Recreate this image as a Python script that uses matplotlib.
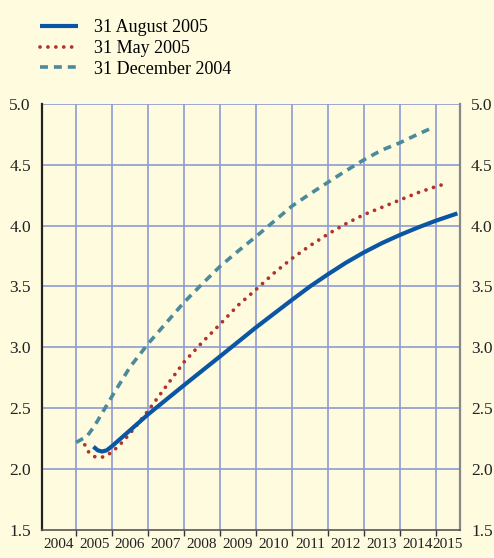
import numpy as np
import matplotlib
matplotlib.use("Agg")
import matplotlib.pyplot as plt
from matplotlib.ticker import FixedLocator, NullFormatter, FixedFormatter

# --- Du lieu doc tu bieu do ---
aug_x = [2005.48, 2005.6, 2005.72, 2005.85, 2006.0, 2006.25, 2006.5, 2007.0,
         2008.0, 2009.0, 2010.0, 2011.0, 2011.5, 2012.0, 2012.5, 2013.0,
         2013.5, 2014.0, 2014.5, 2015.0, 2015.6]
aug_y = [2.185, 2.155, 2.145, 2.155, 2.19, 2.255, 2.32, 2.45,
         2.69, 2.926, 3.164, 3.39, 3.50, 3.60, 3.695, 3.78,
         3.856, 3.923, 3.984, 4.04, 4.10]

may_x = [2005.24, 2005.35, 2005.53, 2005.76, 2006.0, 2006.31, 2006.6, 2007.0,
         2007.5, 2008.0, 2008.5, 2009.0, 2009.5, 2010.0, 2010.5, 2011.0,
         2011.5, 2012.0, 2012.5, 2013.0, 2013.5, 2014.0, 2014.5, 2015.0,
         2015.23]
may_y = [2.20, 2.14, 2.10, 2.10, 2.14, 2.23, 2.33, 2.48,
         2.68, 2.88, 3.04, 3.19, 3.345, 3.475, 3.61, 3.73,
         3.835, 3.93, 4.015, 4.09, 4.15, 4.21, 4.27, 4.32,
         4.34]

dec_x = [2005.0, 2005.3, 2005.5, 2006.0, 2006.5, 2007.0, 2007.5, 2008.0,
         2008.5, 2009.0, 2009.5, 2010.0, 2010.5, 2011.0, 2011.5, 2012.0,
         2012.5, 2013.0, 2013.5, 2014.0, 2014.5, 2014.88]
dec_y = [2.22, 2.27, 2.35, 2.60, 2.84, 3.03, 3.20, 3.37,
         3.52, 3.665, 3.79, 3.91, 4.035, 4.16, 4.26, 4.355,
         4.45, 4.54, 4.62, 4.68, 4.75, 4.80]

years = list(range(2004, 2016))
year_label_pos = [y + 0.5 for y in years[:-1]] + [2015.33]
y_ticks = [1.5, 2.0, 2.5, 3.0, 3.5, 4.0, 4.5, 5.0]

bg = "#FEFBDF"
grid_col = "#8E9BD3"

plt.rcParams['font.family'] = ['Liberation Serif', 'DejaVu Serif']

fig = plt.figure(figsize=(4.94, 5.58), dpi=100, facecolor=bg)
ax = fig.add_axes([0.085, 0.050, 0.846, 0.764], facecolor=bg)

# luoi
for yy in y_ticks[1:]:
    ax.axhline(yy, color=grid_col, lw=1.2, zorder=1)
for xx in years[1:]:
    ax.axvline(xx, color=grid_col, lw=1.2, zorder=1)

l1, = ax.plot(aug_x, aug_y, color="#0A56A5", lw=3.0, solid_capstyle='butt',
              solid_joinstyle='round', label="31 August 2005", zorder=4)
l2, = ax.plot(may_x, may_y, color="#B0332E", lw=2.7, linestyle=(0, (0.01, 2.1)),
              dash_capstyle='round', label="31 May 2005", zorder=3)
l3, = ax.plot(dec_x, dec_y, color="#4A8B9B", lw=2.6, linestyle=(0, (2.2, 1.65)),
              dash_capstyle='butt', label="31 December 2004", zorder=3)

ax.set_xlim(2004.05, 2015.67)
ax.set_ylim(1.5, 5.0)

ax.xaxis.set_major_locator(FixedLocator(years))
ax.xaxis.set_major_formatter(NullFormatter())
ax.xaxis.set_minor_locator(FixedLocator(year_label_pos))
ax.xaxis.set_minor_formatter(FixedFormatter([str(y) for y in years]))
ax.tick_params(axis='x', which='major', direction='out', length=4, width=1.0, color="#333333")
ax.tick_params(axis='x', which='minor', length=0, pad=6, labelsize=11, colors="#222222")

ax.set_yticks(y_ticks)
ax.set_yticklabels([f"{v:.1f}" for v in y_ticks])
ax.tick_params(axis='y', which='major', length=0, labelsize=12.5, colors="#222222",
               left=True, right=True, labelleft=True, labelright=True, pad=8)

ax.spines["top"].set_visible(False)
ax.spines["left"].set_color("#222222")
ax.spines["left"].set_linewidth(1.6)
ax.spines["right"].set_color("#888888")
ax.spines["right"].set_linewidth(1.6)
ax.spines["bottom"].set_color("#555555")
ax.spines["bottom"].set_linewidth(1.2)

fig.legend(handles=[l1, l2, l3], loc="upper left", bbox_to_anchor=(0.055, 0.988),
           frameon=False, fontsize=13, handlelength=2.1, handletextpad=0.9,
           labelspacing=0.2, borderaxespad=0.3)

fig.savefig("out.png", dpi=100, facecolor=bg)
